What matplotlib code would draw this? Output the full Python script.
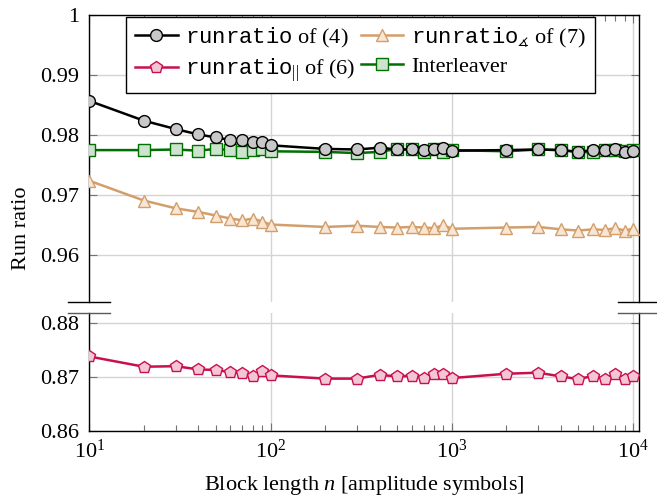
import matplotlib
matplotlib.use('Agg')
import matplotlib.pyplot as plt
from matplotlib.lines import Line2D
from matplotlib.ticker import FixedLocator, FuncFormatter

plt.rcParams['font.family'] = 'Liberation Serif'
plt.rcParams['font.size'] = 16
plt.rcParams['mathtext.fontset'] = 'custom'
plt.rcParams['mathtext.rm'] = 'Liberation Serif'
plt.rcParams['mathtext.it'] = 'Liberation Serif:italic'
plt.rcParams['mathtext.tt'] = 'Liberation Mono'
plt.rcParams['mathtext.fallback'] = 'stix'

# block lengths n
n = [10, 20, 30, 40, 50, 60, 70, 80, 90,
     100, 200, 300, 400, 500, 600, 700, 800, 900,
     1000, 2000, 3000, 4000, 5000, 6000, 7000, 8000, 9000, 10000]

# runratio of (4)
rr_4 = [0.9857, 0.9824, 0.9810, 0.9801, 0.9796, 0.9792, 0.9791, 0.9788, 0.9788,
        0.9783, 0.9777, 0.9776, 0.9779, 0.9776, 0.9776, 0.9775, 0.9777, 0.9778,
        0.9774, 0.9775, 0.9776, 0.9775, 0.9772, 0.9775, 0.9775, 0.9776, 0.9772, 0.9774]

# runratio_angle of (7)
rr_7 = [0.9724, 0.9691, 0.9678, 0.9672, 0.9666, 0.9661, 0.9658, 0.9661, 0.9656,
        0.9651, 0.9647, 0.9649, 0.9647, 0.9646, 0.9647, 0.9646, 0.9645, 0.9650,
        0.9644, 0.9646, 0.9647, 0.9643, 0.9641, 0.9643, 0.9642, 0.9645, 0.9641, 0.9644]

# runratio_|| of (6)
rr_6 = [0.8738, 0.8719, 0.8720, 0.8714, 0.8713, 0.8709, 0.8707, 0.8701, 0.8711,
        0.8703, 0.8697, 0.8697, 0.8704, 0.8701, 0.8702, 0.8699, 0.8705, 0.8706,
        0.8698, 0.8706, 0.8708, 0.8701, 0.8696, 0.8702, 0.8696, 0.8706, 0.8697, 0.8702]

# interleaver
inter = [0.9775, 0.9775, 0.9776, 0.9774, 0.9777, 0.9775, 0.9772, 0.9775, 0.9776,
         0.9773, 0.9772, 0.9770, 0.9772, 0.9777, 0.9776, 0.9772, 0.9776, 0.9772,
         0.9775, 0.9773, 0.9776, 0.9775, 0.9772, 0.9771, 0.9775, 0.9775, 0.9773, 0.9775]

top_ticks = [0.96, 0.97, 0.98, 0.99, 1.0]
bot_ticks = [0.86, 0.87, 0.88]

W, H = 657, 497
x0, x1 = 89.3, 639
y_top, y_brk1, y_brk2, y_bot = 15, 302, 313, 431

fig = plt.figure(figsize=(W / 100, H / 100), dpi=100)
ax_t = fig.add_axes([x0 / W, 1 - y_brk1 / H, (x1 - x0) / W, (y_brk1 - y_top) / H])
ax_b = fig.add_axes([x0 / W, 1 - y_bot / H, (x1 - x0) / W, (y_bot - y_brk2) / H], sharex=ax_t)

lw = 1.8
h_green, = ax_t.plot(n, inter, color='#007000', lw=lw, marker='s', ms=8,
                     mfc='#cde3cd', mec='#007000', mew=1.0, zorder=3)
h_orange, = ax_t.plot(n, rr_7, color='#d29e6c', lw=lw, marker='^', ms=8,
                      mfc='#f8e6d3', mec='#d29e6c', mew=1.0, zorder=3)
h_black, = ax_t.plot(n, rr_4, color='black', lw=lw, marker='o', ms=8.5,
                     mfc='#c8c8c8', mec='black', mew=1.0, zorder=4)
h_pink, = ax_b.plot(n, rr_6, color='#c8104e', lw=lw, marker='p', ms=9,
                    mfc='#f3c6d6', mec='#c8104e', mew=1.0, zorder=3)

ax_t.set_xscale('log')
ax_t.set_xlim(10, 10800)
ax_t.set_ylim(0.9522, 1.0)
ax_b.set_ylim(0.86, 0.88185)

fmt = FuncFormatter(lambda v, p: f'{v:g}')
ax_t.yaxis.set_major_locator(FixedLocator(top_ticks))
ax_b.yaxis.set_major_locator(FixedLocator(bot_ticks))
ax_t.yaxis.set_major_formatter(fmt)
ax_b.yaxis.set_major_formatter(fmt)

for ax in (ax_t, ax_b):
    ax.set_axisbelow(True)
    ax.grid(True, which='major', color='#d4d4d4', lw=1.0)
    ax.tick_params(which='both', direction='in', color='0.45', left=True, right=True,
                   pad=7, width=0.8)
    ax.tick_params(which='major', length=5.5)
    ax.tick_params(which='minor', length=4)
    for s in ax.spines.values():
        s.set_linewidth(1.0)

ax_t.spines['bottom'].set_visible(False)
ax_b.spines['top'].set_visible(False)
ax_t.tick_params(which='both', top=True, bottom=False, labelbottom=False)
ax_b.tick_params(which='both', top=False, bottom=True)
ax_b.tick_params(axis='x', pad=6)

# break marks
for xs in (x0, x1):
    for yy, c in ((y_brk1, 'black'), (y_brk2, '0.35')):
        fig.add_artist(Line2D([(xs - 21) / W, (xs + 21) / W], [1 - yy / H, 1 - yy / H],
                              color=c, lw=1.0, transform=fig.transFigure))

ax_b.set_xlabel('Block length $n$ [amplitude symbols]', labelpad=8)
fig.text(22 / W, 1 - 228 / H, 'Run ratio', rotation=90, ha='center', va='center')

labels = [r'$\mathtt{runratio}$ of (4)', r'$\mathtt{runratio}_{||}$ of (6)',
          r'$\mathtt{runratio}_{\measuredangle}$ of (7)', 'Interleaver']
leg = ax_t.legend([h_black, h_pink, h_orange, h_green], labels, ncol=2,
                  loc='upper right', bbox_to_anchor=(595 / W, 1 - 16.7 / H),
                  bbox_transform=fig.transFigure, borderaxespad=0, fancybox=False,
                  framealpha=1, edgecolor='black', handlelength=1.9, handletextpad=0.35,
                  columnspacing=0.25, labelspacing=0.3, borderpad=0.4)
leg.get_frame().set_linewidth(1.0)
leg.set_zorder(10)

fig.savefig('out.png', dpi=100)
